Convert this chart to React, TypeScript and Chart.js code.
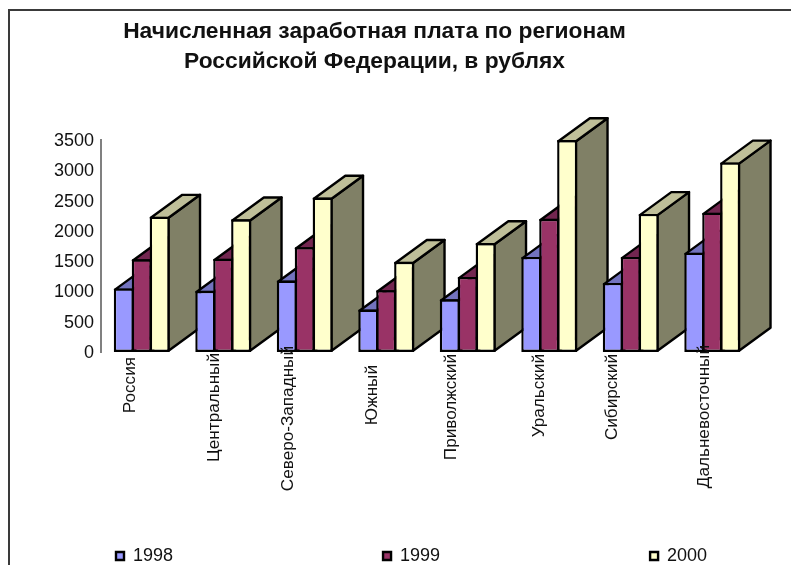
import React, { useEffect, useRef } from "react";
import { Chart, registerables } from "chart.js";

Chart.register(...registerables);

const regions = ["Россия", "Центральный", "Северо-Западный", "Южный", "Приволжский", "Уральский", "Сибирский", "Дальневосточный"];
const values1998 = [1050, 1010, 1180, 700, 870, 1570, 1140, 1640];
const values1999 = [1530, 1540, 1730, 1020, 1240, 2200, 1570, 2300];
const values2000 = [2235, 2190, 2550, 1490, 1800, 3500, 2280, 3130];
const titleLines = ["Начисленная заработная плата по регионам", "Российской Федерации, в рублях"];
const labelNudgeX = [3, 5, -2, 0, -2, 4, -4, 6];
const labelNudgeY = [3, -1, -8, 11, 0, 0, 0, -9];

const FONT = "'Liberation Sans', Arial, sans-serif";
const DEPTH_X = 31.5;
const DEPTH_Y = 23;
const LEGEND_GAP = 210;
const EDGE = 2.4;

const topColors = ["#7373bf", "#732650", "#bfbf99"];
const wallColors = ["#4d4d80", "#4d1a33", "#808066"];

const poly = (ctx: CanvasRenderingContext2D, pts: number[][], fill: string) => {
  ctx.beginPath();
  pts.forEach((p, i) => (i ? ctx.lineTo(p[0], p[1]) : ctx.moveTo(p[0], p[1])));
  ctx.closePath();
  ctx.fillStyle = fill;
  ctx.fill();
  ctx.stroke();
};

const sheetPlugin = {
  id: "sheet",
  afterLayout(chart: any) {
    const lg = chart.legend;
    lg.options.labels.padding = LEGEND_GAP;
    lg.left = 116 - LEGEND_GAP;
    lg.right = 3000;
    lg.top = 547 - LEGEND_GAP;
    chart.titleBlock.left -= 2;
    chart.titleBlock.right -= 2;
  },
  beforeDraw(chart: any) {
    const ctx = chart.ctx;
    ctx.save();
    ctx.strokeStyle = "#3a3a3a";
    ctx.lineWidth = 2;
    ctx.beginPath();
    ctx.moveTo(9, 565);
    ctx.lineTo(9, 10);
    ctx.lineTo(791, 10);
    ctx.stroke();
    ctx.restore();
    const x = chart.scales.x;
    x.getLabelItems().forEach((it: any, i: number) => {
      it.options.translation = [it.options.translation[0] + labelNudgeX[i], it.options.translation[1] + labelNudgeY[i]];
    });
    // labels are allowed to run up over the bars, as in the reference
    x.top -= 14;
    chart.scales.y.getLabelItems().forEach((it: any) => {
      it.options.translation = [it.options.translation[0], it.options.translation[1] + 1];
    });
  },
  beforeDatasetsDraw(chart: any) {
    const ctx = chart.ctx;
    ctx.save();
    ctx.strokeStyle = "#000";
    ctx.lineWidth = EDGE;
    ctx.lineJoin = "round";
    const metas = chart.getSortedVisibleDatasetMetas();
    regions.forEach((_, i) => {
      metas.forEach((meta: any, d: number) => {
        const b = meta.data[i];
        const half = b.width / 2;
        const l = b.x - half + EDGE / 2;
        const r = b.x + half - EDGE / 2;
        const t = b.y + EDGE / 2;
        const base = b.base - EDGE / 2;
        poly(ctx, [[r, t], [r + DEPTH_X, t - DEPTH_Y], [r + DEPTH_X, base - DEPTH_Y], [r, base]], wallColors[d]);
        poly(ctx, [[l, t], [l + DEPTH_X, t - DEPTH_Y], [r + DEPTH_X, t - DEPTH_Y], [r, t]], topColors[d]);
      });
    });
    ctx.restore();
  },
};

export default function App() {
  const ref = useRef<HTMLCanvasElement>(null);
  useEffect(() => {
    document.body.style.margin = "0";
    const chart = new Chart(ref.current!, {
      type: "bar",
      data: {
        labels: regions,
        datasets: [
          { label: "1998", data: values1998, backgroundColor: "#9999ff" },
          { label: "1999", data: values1999, backgroundColor: "#993366" },
          { label: "2000", data: values2000, backgroundColor: "#ffffcc" },
        ].map((d) => ({ ...d, borderColor: "#000", borderWidth: EDGE, borderSkipped: false, categoryPercentage: 0.66, barPercentage: 1.12 })),
      },
      plugins: [sheetPlugin],
      options: {
        animation: false,
        responsive: false,
        layout: { padding: { left: 0, right: 38, top: 0, bottom: 0 } },
        plugins: {
          tooltip: { enabled: false },
          title: {
            display: true,
            text: titleLines,
            color: "#111",
            font: { family: FONT, size: 22.8, weight: "bold", lineHeight: 1.316 },
            padding: { top: 17, bottom: 63 },
          },
          legend: {
            position: "bottom",
            align: "start",
            labels: {
              color: "#111",
              font: { family: FONT, size: 18 },
              boxWidth: 8,
              boxHeight: 8,
              padding: 10,
            },
          },
        },
        scales: {
          x: {
            grid: { display: false, drawTicks: false },
            border: { display: false },
            afterFit: (s: any) => { s.height = 175; },
            ticks: {
              z: 1,
              color: "#111",
              font: { family: FONT, size: 17.15 },
              minRotation: 90,
              maxRotation: 90,
              autoSkip: false,
              labelOffset: -14,
              padding: 2,
            } as any,
          },
          y: {
            min: 0,
            max: 3500,
            afterFit: (s: any) => { s.width = 101; },
            grid: { display: false, drawTicks: true, tickLength: 4, tickColor: "#808080" } as any,
            border: { display: true, color: "#808080", width: 2 },
            ticks: { stepSize: 500, color: "#111", font: { family: FONT, size: 18 }, padding: 3, callback: (v: any) => String(v) },
          },
        },
      },
    });
    return () => chart.destroy();
  }, []);
  return <canvas ref={ref} width={791} height={565} style={{ display: "block", width: 791, height: 565 }} />;
}
